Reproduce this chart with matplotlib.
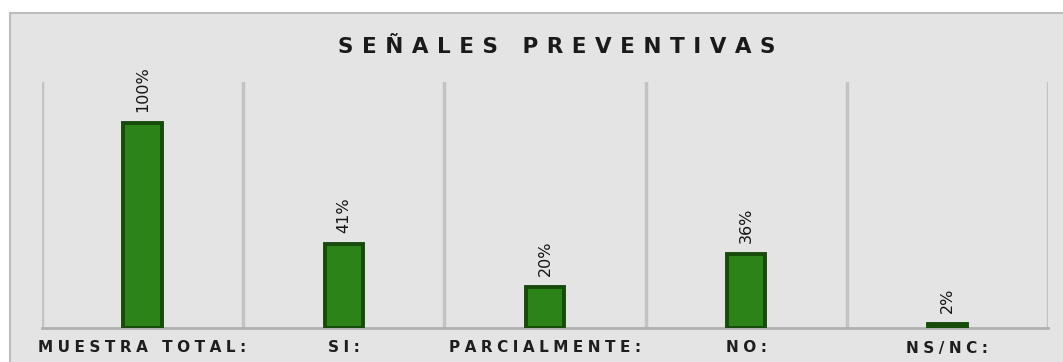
"""Bar chart: senales preventivas
"""
import matplotlib
matplotlib.use('agg')
import matplotlib.pyplot as plt
from matplotlib.patches import Rectangle

categories = ['MUESTRA TOTAL:', 'SI:', 'PARCIALMENTE:', 'NO:', 'NS/NC:']
values = [100, 41, 20, 36, 2]
value_labels = ['100%', '41%', '20%', '36%', '2%']
title = 'SEÑALES PREVENTIVAS'

TS = '\u2009'  # thin space used for letter tracking
HS = '\u200a'  # hair space


def spaced(s, sep=TS):
    return sep.join(s)


fig = plt.figure(figsize=[10.63, 3.62], dpi=100)
fig.patch.set_facecolor('white')

# grey panel behind the chart
panel = Rectangle((10/1063, -0.01), 1.0, (362-13)/362 + 0.01, transform=fig.transFigure,
                  facecolor='#e4e4e4', edgecolor='#bdbdbd', lw=1.5, zorder=-5)
fig.patches.append(panel)

ax = fig.add_axes([42/1063, (362-328)/362, (1048-42)/1063, (328-82)/362])
ax.set_facecolor('none')
ax.set_zorder(2)

x = list(range(len(categories)))
ax.bar(x, values, width=0.19, color='#2c8418', edgecolor='#174a0b', lw=2.8, zorder=3)
for xi, v, lab in zip(x, values, value_labels):
    ax.annotate(lab, (xi, v), xytext=(0, 8), textcoords='offset points',
                rotation=90, ha='center', va='bottom', fontsize=11.5,
                color='#151515')

ax.set_xlim(-0.5, len(categories) - 0.5)
ax.set_ylim(0, 120)

# separators between categories
for b in [i - 0.5 for i in range(len(categories) + 1)]:
    ax.axvline(b, color='#c3c3c3', lw=2.5, zorder=1)

for s in ['top', 'right', 'left']:
    ax.spines[s].set_visible(False)
ax.spines['bottom'].set_color('#b0b0b0')
ax.spines['bottom'].set_linewidth(2)
ax.set_yticks([])
ax.set_xticks(x)
ax.set_xticklabels([spaced(c, TS + HS) for c in categories], fontsize=11,
                   fontweight='bold', color='#1e1e1e')
ax.tick_params(axis='x', length=0, pad=9)

fig.text(557/1063, 1 - 47/362, spaced(title, TS * 2), ha='center', va='center',
         fontsize=15.5, fontweight='bold', color='#1a1a1a')

plt.savefig('out.png', dpi=100)
